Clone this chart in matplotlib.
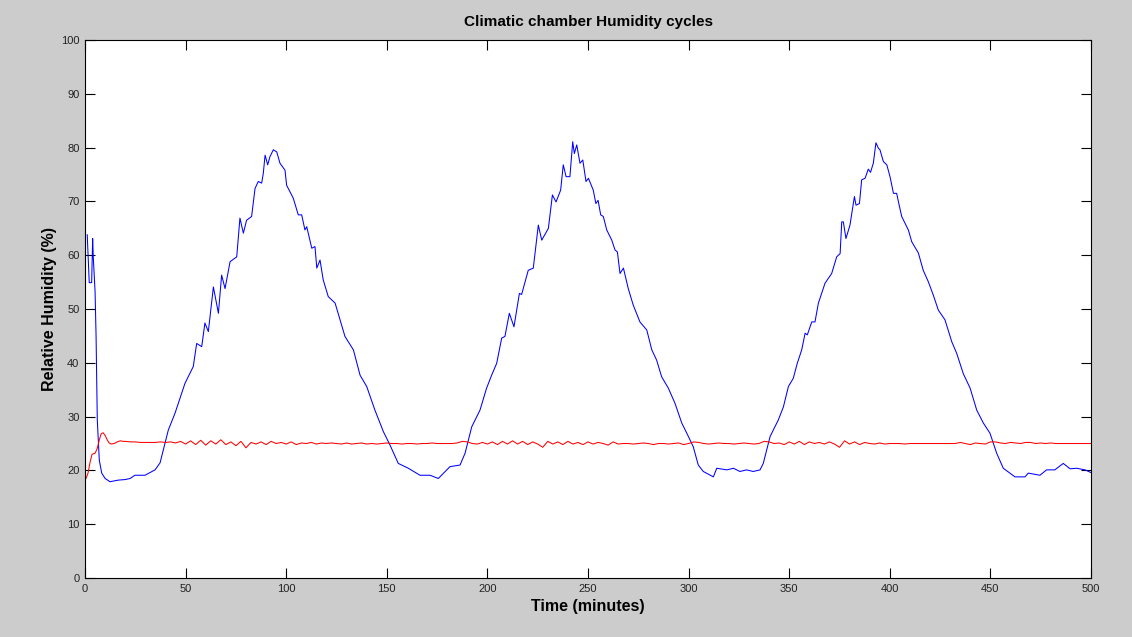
import numpy as np
import matplotlib
matplotlib.use("Agg")
import matplotlib.pyplot as plt

# ---------------------------------------------------------------------------
# Data
# ---------------------------------------------------------------------------

# chamber humidity (blue) -- (time in minutes, RH in %)
blue_t = [1.1, 2.1, 3.3, 3.8, 4.1, 5.0, 5.5, 6.1, 7.1, 8.3, 10.0, 12.4, 16.6, 20.0,
          22.4, 24.8, 29.8, 34.8, 37.3, 41.4, 44.7, 49.7, 53.8, 55.5, 58.0, 59.6,
          61.3, 63.8, 66.3, 67.9, 69.6, 72.1, 75.4, 77.0, 78.7, 80.3, 82.8, 84.5,
          86.1, 87.8, 88.6, 89.5, 90.8, 91.9, 93.6, 95.3, 96.9, 99.4, 100.2, 103.5,
          106.0, 107.7, 109.3, 110.2, 112.7, 114.3, 115.2, 116.8, 118.4, 120.9, 124.3,
          129.2, 133.4, 136.7, 140.0, 144.1, 148.3, 151.6, 155.7, 160.7, 166.5, 171.5,
          175.6, 178.5, 181.4, 186.4, 188.9, 192.2, 196.3, 199.6, 202.1, 204.6, 207.1,
          208.7, 210.9, 213.2, 215.9, 217.0, 220.3, 222.8, 225.3, 227.0, 230.3, 232.3,
          234.1, 236.4, 237.7, 239.1, 241.0, 242.4, 243.2, 244.4, 246.0, 247.4, 249.0,
          250.2, 252.6, 253.9, 255.0, 256.3, 257.6, 259.3, 261.8, 263.4, 264.6, 265.9,
          267.6, 270.0, 272.5, 275.8, 279.2, 281.7, 284.1, 286.6, 289.9, 293.2, 296.6,
          299.9, 302.3, 304.8, 307.3, 312.3, 314.0, 319.0, 322.3, 325.5, 328.8, 332.1,
          335.5, 337.1, 340.5, 344.6, 347.1, 349.6, 352.0, 354.0, 356.2, 357.9, 359.0,
          361.2, 362.8, 364.5, 367.8, 371.1, 373.6, 375.3, 376.1, 376.9, 378.2, 380.2,
          381.6, 382.4, 383.2, 384.9, 386.0, 387.7, 389.3, 390.4, 391.8, 393.1, 394.3,
          395.1, 396.8, 398.5, 400.1, 401.8, 403.4, 404.3, 405.9, 409.2, 410.9, 414.2,
          416.6, 419.1, 421.6, 424.1, 427.4, 430.8, 433.2, 436.5, 439.9, 443.2, 446.5,
          449.8, 453.1, 456.4, 462.2, 467.2, 468.8, 474.6, 477.9, 482.0, 486.2, 489.6,
          492.9, 497.0, 500.0]
blue_v = [63.8, 54.9, 54.9, 63.1, 59.7, 53.2, 44.9, 29.4, 21.9, 19.5, 18.5, 17.9, 18.2, 18.3,
          18.5, 19.1, 19.1, 20.1, 21.4, 27.5, 30.6, 36.2, 39.3, 43.6, 43.0, 47.4,
          45.8, 54.1, 49.2, 56.3, 53.8, 58.8, 59.7, 66.9, 64.1, 66.5, 67.2, 72.4,
          73.7, 73.4, 75.2, 78.6, 76.8, 78.3, 79.6, 79.2, 77.1, 75.8, 73.0, 70.6,
          67.5, 67.5, 64.7, 65.3, 61.3, 61.6, 57.6, 59.1, 55.4, 52.3, 51.1,
          44.9, 42.4, 37.7, 35.6, 31.2, 27.2, 24.7, 21.3, 20.4, 19.1, 19.1,
          18.5, 19.6, 20.7, 21.0, 23.2, 28.1, 31.2, 35.3, 37.7, 39.9, 44.6,
          44.9, 49.2, 46.7, 52.9, 52.7, 57.2, 57.6, 65.6, 62.8, 65.0, 71.2,
          69.9, 72.1, 76.8, 74.6, 74.6, 81.1, 78.9, 80.5, 77.1, 77.7, 73.7,
          74.3, 72.1, 69.6, 70.2, 67.5, 67.2, 64.7, 62.8, 61.0, 60.6, 56.6,
          57.6, 53.8, 50.7, 47.6, 46.1, 42.4, 40.5, 37.4, 35.3, 32.5, 28.8,
          26.3, 24.4, 21.0, 19.8, 18.8, 20.4, 20.1, 20.4, 19.8, 20.1, 19.8,
          20.1, 21.3, 26.3, 29.4, 31.8, 35.6, 37.1, 39.9, 42.4, 45.5, 45.2,
          47.6, 47.6, 51.1, 54.8, 56.6, 59.7, 60.3, 66.2, 66.2, 63.1, 65.6,
          69.0, 70.9, 69.3, 69.6, 74.0, 74.3, 76.0, 75.4, 77.1, 80.9, 79.9,
          79.6, 77.4, 76.8, 74.6, 71.5, 71.5, 69.9, 67.2, 64.7, 62.5, 60.4,
          57.2, 55.1, 52.6, 49.8, 48.0, 43.9, 41.8, 38.0, 35.3, 31.2, 28.8,
          26.9, 23.2, 20.4, 18.8, 18.8, 19.5, 19.1, 20.1, 20.1, 21.3, 20.3,
          20.4, 20.1, 19.6]

# set point / reference humidity (red): start-up transient, then 2.5 min samples
red_t0 = [0.5, 1.5, 2.5, 3.5, 5.0, 6.0, 7.0, 8.0, 9.0, 10.0, 11.0, 12.0, 13.0,
          14.5, 16.0, 17.5, 19.0]
red_v0 = [18.5, 19.5, 21.5, 23.0, 23.2, 24.0, 25.5, 26.8, 27.0, 26.5, 25.7, 25.1, 24.9,
          25.0, 25.3, 25.5, 25.4]
red_step = 2.5
red_v = [
    25.4, 25.3, 25.3, 25.2, 25.2, 25.2, 25.2, 25.3, 25.2, 25.3, 25.1, 25.4, 24.9, 25.5, 24.8, 25.6, 24.7, 25.5, 24.9, 25.7,
    24.8, 25.3, 24.6, 25.4, 24.2, 25.2, 24.9, 25.3, 24.8, 25.4, 25.0, 25.2, 24.9, 25.3, 24.8, 25.1, 25.0, 25.2, 24.9, 25.1,
    25.0, 25.1, 25.0, 24.9, 25.1, 24.9, 25.0, 25.1, 24.9, 25.0, 24.9, 25.0, 25.1, 25.0, 25.0, 24.9, 25.0, 25.0, 24.9, 25.0,
    25.0, 25.1, 25.0, 25.0, 25.0, 25.0, 25.1, 25.4, 25.3, 25.0, 24.9, 25.2, 24.9, 25.3, 24.8, 25.4, 24.9, 25.5, 24.9, 25.4,
    24.8, 25.3, 24.9, 24.3, 25.4, 24.9, 25.3, 24.8, 25.4, 24.9, 25.2, 24.8, 25.3, 24.9, 25.2, 25.0, 24.7, 25.3, 24.9, 25.0,
    25.0, 24.9, 25.0, 25.1, 25.0, 24.8, 25.0, 25.0, 24.9, 25.0, 25.1, 24.8, 25.0, 25.3, 25.2, 25.0, 24.9, 25.0, 25.1, 25.0,
    25.0, 24.9, 25.0, 25.1, 25.0, 24.9, 25.0, 25.4, 25.3, 25.0, 25.1, 24.8, 25.3, 24.9, 25.4, 24.8, 25.3, 25.0, 25.2, 24.9,
    25.3, 24.9, 24.3, 25.5, 24.9, 25.3, 24.8, 25.2, 25.0, 24.9, 25.1, 24.9, 25.0, 25.0, 25.0, 24.9, 25.0, 25.0, 25.0, 25.0,
    25.0, 25.0, 25.0, 25.0, 25.0, 25.0, 25.2, 25.0, 24.8, 25.1, 25.0, 24.9, 25.3, 25.3, 25.1, 25.0, 25.2, 25.1, 25.0, 25.2,
    25.2, 25.0, 25.1, 25.0, 25.1, 25.0, 25.0, 25.0, 25.0, 25.0, 25.0, 25.0, 25.0,
]
red_t = red_t0 + [20.0 + red_step * i for i in range(len(red_v))]
red_all = red_v0 + red_v

x_ticks = list(range(0, 501, 50))
y_ticks = list(range(0, 101, 10))

# ---------------------------------------------------------------------------
# Plot (MATLAB-like look)
# ---------------------------------------------------------------------------
plt.rcParams["font.family"] = ["Liberation Sans", "DejaVu Sans"]

fig = plt.figure(figsize=(11.32, 6.37), dpi=100, facecolor="#cccccc")
ax = fig.add_axes([0.0751, 0.0926, 0.8887, 0.8446])
ax.set_facecolor("white")

ax.plot(blue_t, blue_v, color="#0000ff", lw=0.75)
ax.plot(red_t, red_all, color="#ff0000", lw=0.75)

ax.set_xlim(0, 500)
ax.set_ylim(0, 100)
ax.set_xticks(x_ticks)
ax.set_yticks(y_ticks)
ax.tick_params(direction="in", length=7, width=0.8, top=True, right=True,
               labelsize=8, pad=4, colors="black", labelcolor="#222222")
for sp in ax.spines.values():
    sp.set_linewidth(0.8)
    sp.set_color("black")

ax.set_title("Climatic chamber Humidity cycles", fontsize=11, fontweight="bold", pad=10)
ax.set_xlabel("Time (minutes)", fontsize=11.5, fontweight="bold", labelpad=4)
ax.set_ylabel("Relative Humidity (%)", fontsize=11.5, fontweight="bold", labelpad=3)

fig.savefig("out.png", dpi=100, facecolor=fig.get_facecolor())
